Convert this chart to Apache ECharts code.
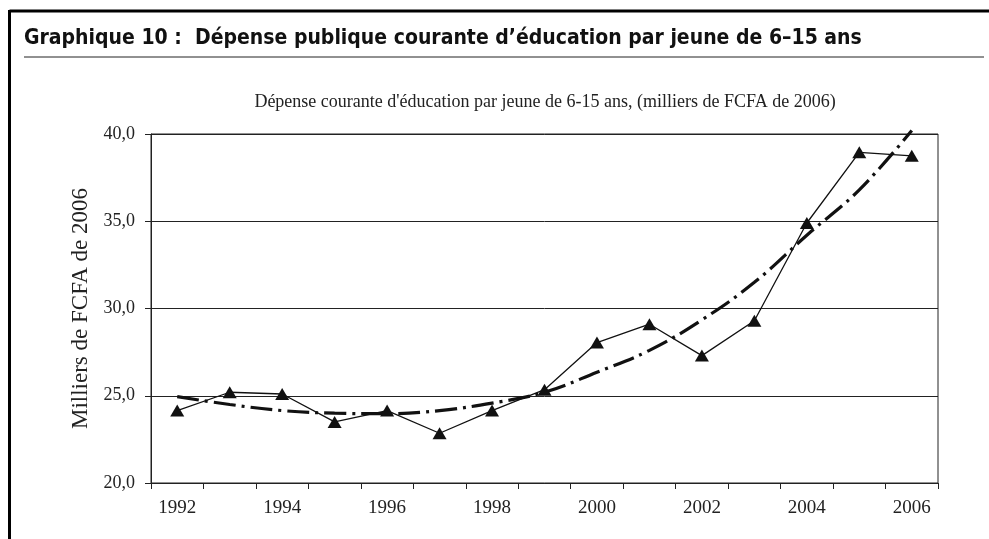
<!DOCTYPE html>
<html>
<head>
<meta charset="utf-8">
<script src="https://cdn.jsdelivr.net/npm/echarts@6/dist/echarts.min.js"></script>
<style>
html,body{margin:0;padding:0;background:#fff;}
#chart{width:989px;height:539px;}
</style>
</head>
<body>
<div id="chart"></div>
<script>
var years = ['1992','1993','1994','1995','1996','1997','1998','1999','2000','2001','2002','2003','2004','2005','2006'];
var depense = [24.15, 25.2, 25.1, 23.5, 24.15, 22.85, 24.15, 25.35, 28.05, 29.1, 27.3, 29.3, 34.9, 38.95, 38.75];
var tendance = [24.95, 24.5, 24.15, 24.0, 23.97, 24.15, 24.58, 25.2, 26.35, 27.6, 29.35, 31.5, 34.2, 36.8, 40.2];
var yTicks = {min: 20, max: 40, interval: 5};

var titleText = 'Graphique 10 :  Dépense publique courante d\u2019éducation par jeune de 6\u201315 ans';
var subText = 'Dépense courante d\'éducation par jeune de 6-15 ans, (milliers de FCFA de 2006)';
var yName = 'Milliers de FCFA de 2006';

var serif = '"Liberation Serif", "DejaVu Serif", serif';
var chart = echarts.init(document.getElementById('chart'), null, {renderer: 'canvas'});
chart.setOption({
  backgroundColor: '#fff',
  animation: false,
  title: [{
    text: titleText,
    left: 24, top: 28,
    padding: 0,
    textStyle: {fontFamily: '"Liberation Sans Narrow", "DejaVu Sans Condensed", "DejaVu Sans", sans-serif', fontWeight: 'bold', fontSize: 21, color: '#111'}
  }, {
    text: subText,
    left: 545, top: 93, textAlign: 'center',
    padding: 0,
    textStyle: {fontFamily: serif, fontWeight: 'normal', fontSize: 18, color: '#222'}
  }],
  graphic: [
    {type: 'line', shape: {x1: 9.5, y1: 11, x2: 989, y2: 11}, style: {stroke: '#000', lineWidth: 3}},
    {type: 'line', shape: {x1: 9.5, y1: 10, x2: 9.5, y2: 539}, style: {stroke: '#000', lineWidth: 3}},
    {type: 'line', shape: {x1: 24, y1: 57, x2: 984, y2: 57}, style: {stroke: '#222', lineWidth: 1}}
  ],
  grid: {left: 151, right: 51, top: 134, bottom: 56, show: true, borderColor: '#222', borderWidth: 1, backgroundColor: 'transparent'},
  xAxis: {
    type: 'category',
    data: years,
    boundaryGap: true,
    axisLine: {lineStyle: {color: '#222', width: 1}},
    axisTick: {show: true, interval: 0, length: 6, lineStyle: {color: '#222'}},
    axisLabel: {interval: 1, fontFamily: serif, fontSize: 19, color: '#222', margin: 16},
    splitLine: {show: false}
  },
  yAxis: {
    type: 'value',
    min: yTicks.min, max: yTicks.max, interval: yTicks.interval,
    name: yName,
    nameLocation: 'middle',
    nameGap: 50,
    nameTextStyle: {fontFamily: serif, fontSize: 23, color: '#222'},
    axisLine: {show: true, lineStyle: {color: '#222', width: 1}},
    axisTick: {show: true, length: 6, inside: false, lineStyle: {color: '#222'}},
    axisLabel: {fontFamily: serif, fontSize: 18, color: '#222', margin: 16,
      formatter: function (v) { return v.toFixed(1).replace('.', ','); }},
    splitLine: {show: true, lineStyle: {color: '#222', width: 1}}
  },
  series: [{
    name: 'Dépense',
    type: 'line',
    data: depense,
    symbol: 'triangle',
    symbolSize: [14, 12],
    lineStyle: {color: '#111', width: 1.3},
    itemStyle: {color: '#111'},
    z: 3
  }, {
    name: 'Tendance',
    type: 'line',
    data: tendance,
    smooth: 0.4,
    showSymbol: false,
    symbol: 'none',
    clip: false,
    lineStyle: {color: '#111', width: 3.2, type: [22, 6, 3, 6]},
    z: 2
  }]
});
</script>
</body>
</html>
